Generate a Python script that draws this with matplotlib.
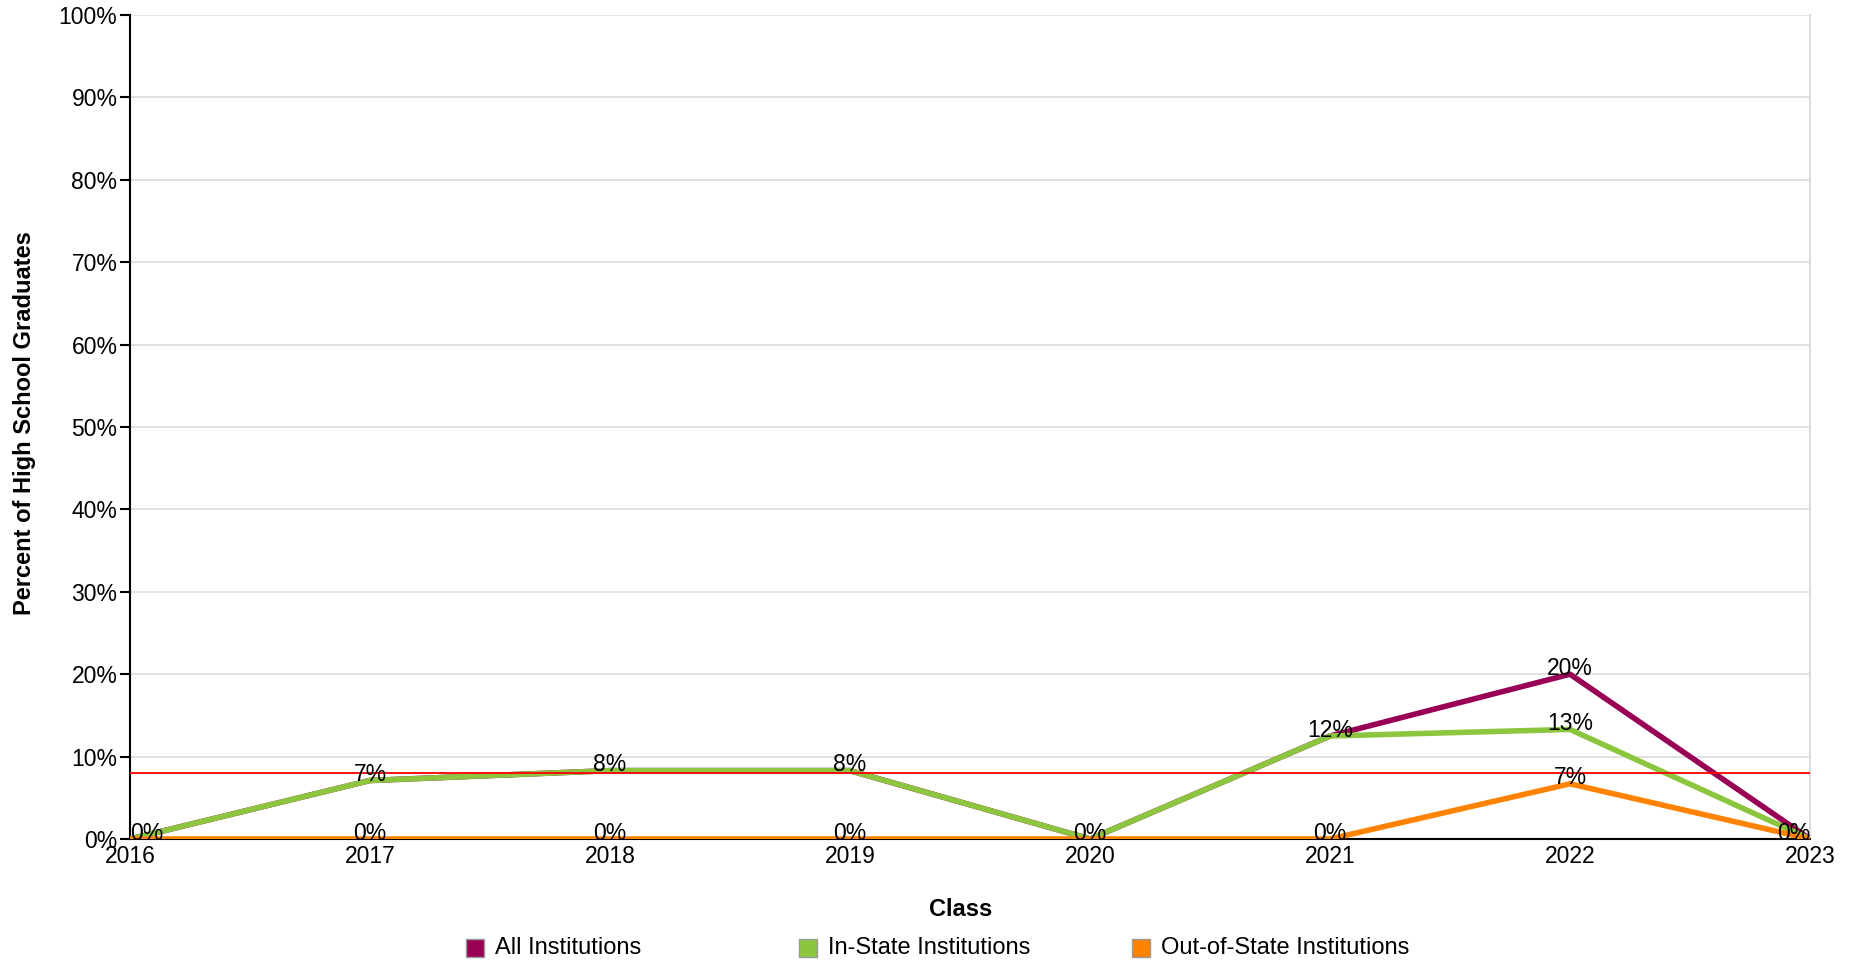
import numpy as np
import matplotlib.pyplot as plt
from matplotlib.patches import Rectangle

plt.rcParams['font.family'] = ['Liberation Sans', 'DejaVu Sans']

years = [2016, 2017, 2018, 2019, 2020, 2021, 2022, 2023]
all_inst = [0.0, 7.1, 8.3, 8.3, 0.0, 12.5, 20.0, 0.0]
in_state = [0.0, 7.1, 8.3, 8.3, 0.0, 12.5, 13.3, 0.0]
out_state = [0.0, 0.0, 0.0, 0.0, 0.0, 0.0, 6.7, 0.0]
target = 8.0

series = [
    ("All Institutions", all_inst, "#990055"),
    ("In-State Institutions", in_state, "#8CC63F"),
    ("Out-of-State Institutions", out_state, "#FF8300"),
]

W, H = 1858, 964
fig = plt.figure(figsize=(W / 100, H / 100), dpi=100)
ax = fig.add_axes([130 / W, 1 - 839 / H, 1680 / W, 824 / H])

x = np.arange(len(years))
for name, vals, col in series:
    ax.plot(x, vals, color=col, lw=4, solid_capstyle='butt', zorder=3)

ax.axhline(target, color='red', lw=1.3, zorder=4)

# one label per distinct value at each class year
for i in range(len(years)):
    shown = []
    for name, vals, col in series:
        lab = f"{vals[i]:.0f}%"
        if lab in shown:
            continue
        shown.append(lab)
        ha = 'center'
        if i == 0:
            ha = 'left'
        elif i == len(years) - 1:
            ha = 'right'
        ax.annotate(lab, (x[i], vals[i]), xytext=(0, -0.5), textcoords='offset points',
                    ha=ha, va='baseline', fontsize=16.5, color='black', zorder=5)

ax.set_xlim(0, len(years) - 1)
ax.set_ylim(0, 100)
ax.set_xticks(x)
ax.set_xticklabels([str(y) for y in years])
ax.set_yticks(np.arange(0, 101, 10))
ax.set_yticklabels([f"{t}%" for t in range(0, 101, 10)])
ax.tick_params(axis='x', length=0, labelsize=16.5, pad=4)
ax.tick_params(axis='y', length=7, width=1.5, labelsize=16.5, pad=2)
ax.grid(axis='y', color='#dddddd', lw=1.2)
ax.set_axisbelow(True)
ax.spines['top'].set_visible(False)
ax.spines['right'].set_color('#dddddd')
ax.spines['right'].set_linewidth(1.5)
ax.spines['left'].set_linewidth(1.5)
ax.spines['bottom'].set_linewidth(1.5)

fig.text(961 / W, 1 - 910 / H, "Class", fontsize=17, fontweight='bold',
         ha='center', va='center')
fig.text(25 / W, 1 - 423 / H, "Percent of High School Graduates", fontsize=17,
         fontweight='bold', rotation=90, ha='center', va='center')

# legend laid out in fixed slots, as in the reference
leg_y = 1 - 948 / H
slots = [466, 799, 1132]
for (name, vals, col), px in zip(series, slots):
    fig.patches.append(Rectangle((px / W, leg_y - 9 / H), 18 / W, 18 / H,
                                 facecolor=col, edgecolor='#999999', lw=1,
                                 transform=fig.transFigure))
    fig.text((px + 29) / W, leg_y, name, fontsize=17, ha='left', va='center')

fig.savefig("out.png", dpi=100)
